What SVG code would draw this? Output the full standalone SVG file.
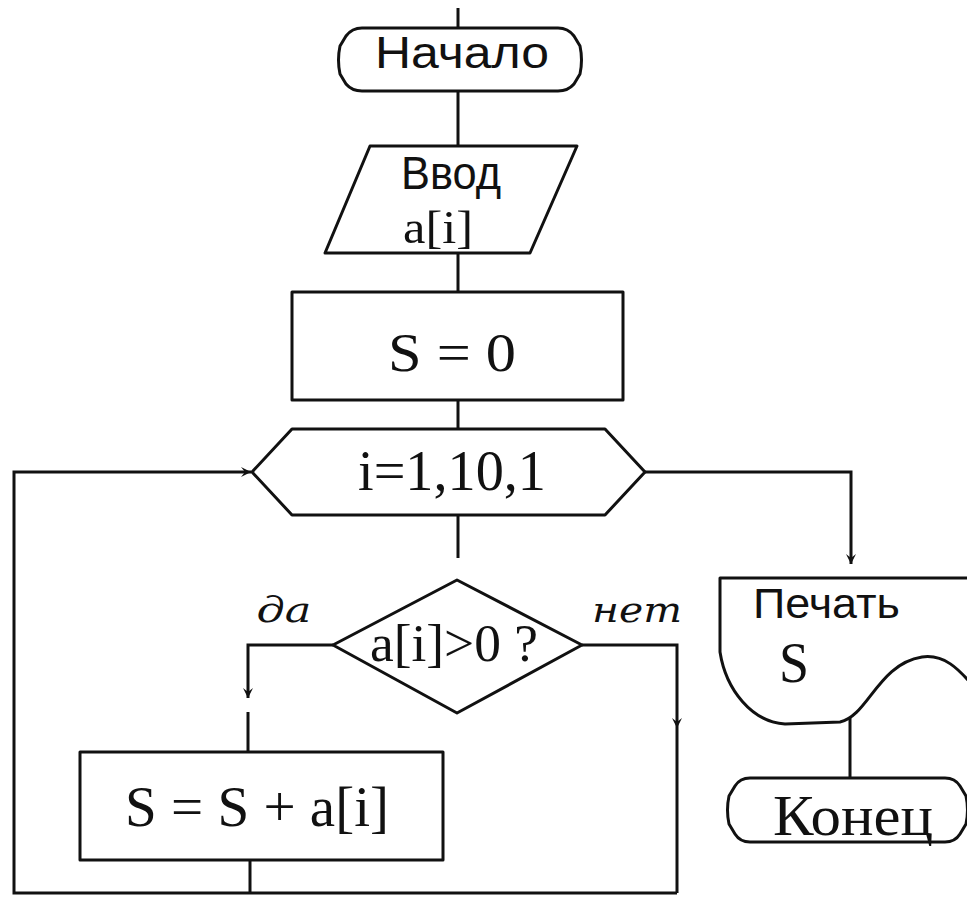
<svg xmlns="http://www.w3.org/2000/svg" width="967" height="905" viewBox="0 0 967 905">
  <style>
    .shape { fill: #fff; stroke: #111; stroke-width: 3; stroke-linejoin: round; }
    .line { fill: none; stroke: #111; stroke-width: 3; }
    .sans { font-family: "Liberation Sans", Arial, sans-serif; fill: #111; }
    .serif { font-family: "Liberation Serif", "Times New Roman", serif; fill: #111; }
    .label { font-family: "DejaVu Serif", "Liberation Serif", serif; font-style: italic; fill: #111; }
  </style>
  <defs>
    <marker id="arrow" markerWidth="12" markerHeight="12" refX="10" refY="6" orient="auto" markerUnits="userSpaceOnUse">
      <path d="M0,1 L10,6 L0,11 L4,6 Z" fill="#111"/>
    </marker>
  </defs>

  <rect width="967" height="905" fill="#fff"/>

  <!-- connectors -->
  <g id="connectors">
    <path class="line" d="M458,8 V28"/>
    <path class="line" d="M458,92 V146"/>
    <path class="line" d="M458,253 V292"/>
    <path class="line" d="M458,400 V429"/>
    <path class="line" d="M458,515 V558"/>
    <!-- yes branch -->
    <path class="line" d="M333,645 H248 V698" marker-end="url(#arrow)"/>
    <path class="line" d="M248,712 V752"/>
    <!-- no branch -->
    <path class="line" d="M582,645 H677 V728" marker-end="url(#arrow)"/>
    <path class="line" d="M677,728 V893"/>
    <!-- loop return -->
    <path class="line" d="M250,860 V893"/>
    <path class="line" d="M677,893 H14 V472 H251" marker-end="url(#arrow)"/>
    <!-- loop exit -->
    <path class="line" d="M645,472 H851 V564" marker-end="url(#arrow)"/>
    <path class="line" d="M850,713 V778"/>
  </g>

  <g id="start">
    <path class="shape" d="M362,28 H558 Q568,28 574,36 L580,46 Q583,60 580,74 L574,84 Q568,91 558,91 H362 Q352,91 346,84 L340,74 Q337,60 340,46 L346,36 Q352,28 362,28 Z"/>
    <text class="sans" x="462" y="68" font-size="45" text-anchor="middle" textLength="174" lengthAdjust="spacingAndGlyphs">Начало</text>
  </g>

  <g id="input">
    <path class="shape" d="M370,146 H577 L530,253 H325 Z"/>
    <text class="sans" x="451" y="189" font-size="46" text-anchor="middle" textLength="100" lengthAdjust="spacingAndGlyphs">Ввод</text>
    <text class="serif" x="438" y="243" font-size="46" text-anchor="middle" textLength="70" lengthAdjust="spacingAndGlyphs">a[i]</text>
  </g>

  <g id="init">
    <rect class="shape" x="292" y="292" width="331" height="108"/>
    <text class="serif" x="452" y="371" font-size="54" text-anchor="middle" textLength="128" lengthAdjust="spacingAndGlyphs">S = 0</text>
  </g>

  <g id="loop">
    <path class="shape" d="M292,429 H605 L645,472 L605,515 H292 L252,472 Z"/>
    <text class="serif" x="452" y="490" font-size="56" text-anchor="middle" textLength="188" lengthAdjust="spacingAndGlyphs">i=1,10,1</text>
  </g>

  <g id="check">
    <path class="shape" d="M457,580 L582,645 L457,713 L333,645 Z"/>
    <text class="serif" x="454" y="661" font-size="52" text-anchor="middle" textLength="168" lengthAdjust="spacingAndGlyphs">a[i]&gt;0 ?</text>
    <text class="label" x="284" y="622" font-size="36" text-anchor="middle" textLength="55" lengthAdjust="spacingAndGlyphs">да</text>
    <text class="label" x="637" y="622" font-size="36" text-anchor="middle" textLength="90" lengthAdjust="spacingAndGlyphs">нет</text>
  </g>

  <g id="sum">
    <rect class="shape" x="80" y="752" width="363" height="108"/>
    <text class="serif" x="257" y="826" font-size="56" text-anchor="middle" textLength="264" lengthAdjust="spacingAndGlyphs">S = S + a[i]</text>
  </g>

  <g id="print">
    <path class="shape" d="M975,578 H720 V652 C726,690 752,722 785,724 L840,722 C868,716 878,664 922,657 C944,654 958,668 975,688"/>
    <text class="sans" x="753" y="618" font-size="42" textLength="147" lengthAdjust="spacingAndGlyphs">Печать</text>
    <text class="serif" x="779" y="682" font-size="56" textLength="30" lengthAdjust="spacingAndGlyphs">S</text>
  </g>

  <g id="end">
    <path class="shape" d="M750,778 H945 Q955,778 960,786 L966,796 Q969,810 966,824 L960,834 Q955,842 945,842 H750 Q740,842 735,834 L729,824 Q726,810 729,796 L735,786 Q740,778 750,778 Z"/>
    <text class="serif" x="853" y="835" font-size="56" text-anchor="middle" textLength="160" lengthAdjust="spacingAndGlyphs">Конец</text>
  </g>
</svg>
